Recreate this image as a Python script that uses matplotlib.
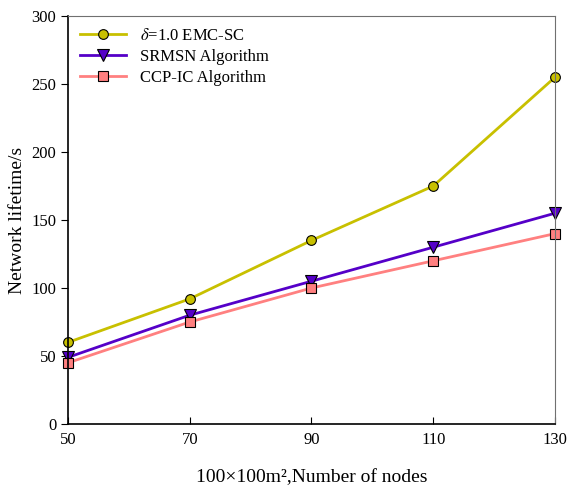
import matplotlib
matplotlib.use('Agg')
import matplotlib.pyplot as plt

plt.rcParams['font.family'] = ['Liberation Serif', 'DejaVu Serif']
plt.rcParams['mathtext.fontset'] = 'stix'

nodes = [50, 70, 90, 110, 130]
emc_sc = [60, 92, 135, 175, 255]
srmsn = [49, 80, 105, 130, 155]
ccp_ic = [45, 75, 100, 120, 140]

fig = plt.figure(figsize=(5.82, 4.87), dpi=100)
ax = fig.add_axes([0.1168, 0.1294, 0.8368, 0.8376])

ax.plot(nodes, emc_sc, color='#c8c000', lw=2, marker='o', ms=7,
        mfc='#c8c000', mec='black', mew=0.8, label=r'$\delta$=1.0 EMC-SC', clip_on=False)
ax.plot(nodes, srmsn, color='#5500c8', lw=2, marker='v', ms=8,
        mfc='#5500c8', mec='black', mew=0.8, label='SRMSN Algorithm', clip_on=False)
ax.plot(nodes, ccp_ic, color='#ff8080', lw=2, marker='s', ms=7,
        mfc='#ff8080', mec='black', mew=0.8, label='CCP-IC Algorithm', clip_on=False)

ax.set_xlim(50, 130)
ax.set_ylim(0, 300)
ax.set_xticks(nodes)
ax.set_yticks(range(0, 301, 50))
ax.tick_params(axis='x', direction='in', length=5, labelsize=12, pad=6)
ax.tick_params(axis='y', direction='out', length=5, labelsize=12)
for s in ['top', 'right']:
    ax.spines[s].set_color('#707070')
for s in ['left', 'bottom']:
    ax.spines[s].set_color('black')
    ax.spines[s].set_linewidth(1.2)

ax.set_xlabel('100×100m²,Number of nodes', fontsize=14, labelpad=15)
ax.set_ylabel('Network lifetime/s', fontsize=14)

ax.legend(loc='upper left', frameon=False, fontsize=12, handlelength=2.8,
          borderaxespad=0.3, labelspacing=0.3)

fig.savefig('out.png', dpi=100)
